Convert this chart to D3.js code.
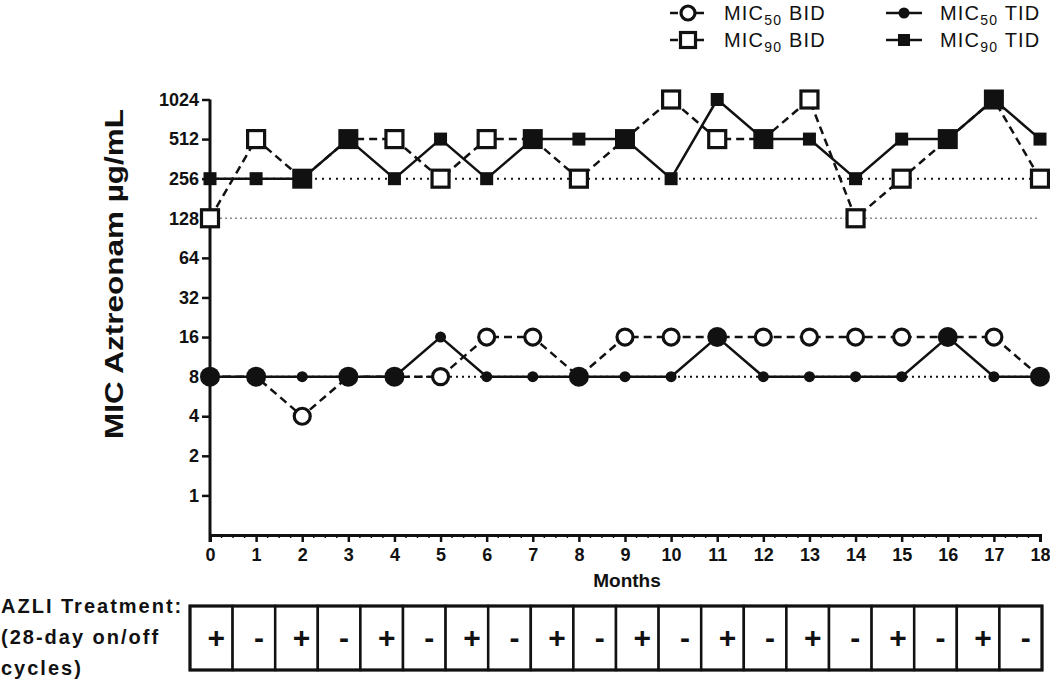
<!DOCTYPE html>
<html>
<head>
<meta charset="utf-8">
<script src="https://cdn.jsdelivr.net/npm/d3@7"></script>
<style>
  body { margin: 0; background: #fff; }
  text { font-family: "Liberation Sans", Arial, sans-serif; }
</style>
</head>
<body>
<div id="chart"></div>
<script>
var width = 1050;
var height = 686;

// data
var months = [0,1,2,3,4,5,6,7,8,9,10,11,12,13,14,15,16,17,18];
var mic50BID = [8,8,4,8,8,8,16,16,8,16,16,16,16,16,16,16,16,16,8];
var mic90BID = [128,512,256,512,512,256,512,512,256,512,1024,512,512,1024,128,256,512,1024,256];
var mic50TID = [8,8,8,8,8,16,8,8,8,8,8,16,8,8,8,8,16,8,8];
var mic90TID = [256,256,256,512,256,512,256,512,512,512,256,1024,512,512,256,512,512,1024,512];
var yTicks = [1,2,4,8,16,32,64,128,256,512,1024];
var baselines = [256,128,8];
var treatment = ["+","-","+","-","+","-","+","-","+","-","+","-","+","-","+","-","+","-","+","-"];
var treatmentLabel = ["AZLI Treatment:", "(28-day on/off", "cycles)"];

var svg = d3.select("#chart")
    .append("svg")
    .attr("width", width)
    .attr("height", height);

var x = d3.scaleLinear().domain([0, 18]).range([210, 1040]);
var y = d3.scaleLog().base(2).domain([0.5, 1024]).range([535, 99.5]);

// dotted baseline reference lines
var refStyle = {256: ["#111", "2,5", 2], 128: ["#888", "2,3", 1.5], 8: ["#111", "2,4", 2]};
svg.append("g").selectAll("line")
    .data(baselines)
    .enter()
        .append("line")
        .attr("x1", x(0))
        .attr("x2", x(18))
        .attr("y1", function(d){ return y(d); })
        .attr("y2", function(d){ return y(d); })
        .attr("stroke", function(d){ return refStyle[d][0]; })
        .attr("stroke-dasharray", function(d){ return refStyle[d][1]; })
        .attr("stroke-width", function(d){ return refStyle[d][2]; });

// axes
var yAxis = svg.append("g")
    .attr("transform", "translate(" + x(0) + ",0)")
    .call(d3.axisLeft(y).tickValues(yTicks).tickSize(8).tickPadding(3).tickFormat(d3.format("d")));

var xAxis = svg.append("g")
    .attr("transform", "translate(0," + y(0.5) + ")")
    .call(d3.axisBottom(x).tickValues(months).tickSize(7).tickPadding(6).tickFormat(d3.format("d")));

// minor ticks on the x axis
svg.append("g").selectAll("line")
    .data(d3.range(0, 18.01, 0.25).filter(function(d){ return d % 1 !== 0; }))
    .enter()
        .append("line")
        .attr("x1", function(d){ return x(d); })
        .attr("x2", function(d){ return x(d); })
        .attr("y1", y(0.5))
        .attr("y2", y(0.5) + 3)
        .attr("stroke", "#111")
        .attr("stroke-width", 1.5);

[yAxis, xAxis].forEach(function(ax){
    ax.select(".domain").attr("stroke", "#111").attr("stroke-width", 3);
    ax.selectAll(".tick line").attr("stroke", "#111").attr("stroke-width", 2.5);
    ax.selectAll(".tick text")
        .attr("fill", "#111")
        .style("font-size", "18px")
        .style("font-weight", "bold");
});
yAxis.select(".domain").attr("d", "M0," + y(1024) + "V" + (y(0.5) + 7));

// axis titles
svg.append("text")
    .attr("transform", "translate(123,274) rotate(-90)")
    .attr("text-anchor", "middle")
    .attr("textLength", 330)
    .attr("lengthAdjust", "spacingAndGlyphs")
    .style("font-size", "25px")
    .style("font-weight", "bold")
    .attr("fill", "#111")
    .text("MIC Aztreonam µg/mL");

svg.append("text")
    .attr("x", 627)
    .attr("y", 587)
    .attr("text-anchor", "middle")
    .style("font-size", "19px")
    .style("font-weight", "bold")
    .attr("fill", "#111")
    .text("Months");

// lines
function series(vals){
    return months.map(function(m, i){ return [m, vals[i]]; });
}
var line = d3.line()
    .x(function(d){ return x(d[0]); })
    .y(function(d){ return y(d[1]); });

var lines = svg.append("g").attr("id", "lines");
[mic90BID, mic50BID].forEach(function(vals){
    lines.append("path")
        .attr("d", line(series(vals)))
        .attr("fill", "none")
        .attr("stroke", "#111")
        .attr("stroke-width", 2.5)
        .attr("stroke-dasharray", "8,5");
});
[mic90TID, mic50TID].forEach(function(vals){
    lines.append("path")
        .attr("d", line(series(vals)))
        .attr("fill", "none")
        .attr("stroke", "#111")
        .attr("stroke-width", 2.5);
});

// markers
var marks = svg.append("g").attr("id", "marks");

function openCircle(g, cx, cy, r){
    g.append("circle").attr("cx", cx).attr("cy", cy).attr("r", r)
        .attr("fill", "#fff").attr("stroke", "#111").attr("stroke-width", 3.2);
}
function openSquare(g, cx, cy, s){
    g.append("rect").attr("x", cx - s/2).attr("y", cy - s/2).attr("width", s).attr("height", s)
        .attr("fill", "#fff").attr("stroke", "#111").attr("stroke-width", 3.2);
}
function fillCircle(g, cx, cy, r){
    g.append("circle").attr("cx", cx).attr("cy", cy).attr("r", r).attr("fill", "#111");
}
function fillSquare(g, cx, cy, s){
    g.append("rect").attr("x", cx - s/2).attr("y", cy - s/2).attr("width", s).attr("height", s)
        .attr("fill", "#111");
}

months.forEach(function(m, i){
    var cx = x(m);
    // MIC50
    if (mic50BID[i] === mic50TID[i]) {
        fillCircle(marks, cx, y(mic50BID[i]), 10);
    } else {
        openCircle(marks, cx, y(mic50BID[i]), 8);
        fillCircle(marks, cx, y(mic50TID[i]), 5.5);
    }
    // MIC90
    if (mic90BID[i] === mic90TID[i]) {
        fillSquare(marks, cx, y(mic90BID[i]), 20);
    } else {
        openSquare(marks, cx, y(mic90BID[i]), 17);
        fillSquare(marks, cx, y(mic90TID[i]), 13);
    }
});

// legend
var legendItems = [
    {name: "MIC", sub: "50", tail: " BID", lx: 670, ly: 13, dashed: true, kind: "circle"},
    {name: "MIC", sub: "90", tail: " BID", lx: 670, ly: 40, dashed: true, kind: "square"},
    {name: "MIC", sub: "50", tail: " TID", lx: 886, ly: 13, dashed: false, kind: "circle"},
    {name: "MIC", sub: "90", tail: " TID", lx: 886, ly: 40, dashed: false, kind: "square"}
];
var legend = svg.append("g").attr("id", "legend");
legendItems.forEach(function(d){
    legend.append("line")
        .attr("x1", d.lx).attr("x2", d.lx + 36)
        .attr("y1", d.ly).attr("y2", d.ly)
        .attr("stroke", "#111").attr("stroke-width", 2.5)
        .attr("stroke-dasharray", d.dashed ? "8,5" : null);
    var cx = d.lx + 18;
    if (d.dashed) {
        if (d.kind === "circle") openCircle(legend, cx, d.ly, 7);
        else openSquare(legend, cx, d.ly, 15);
    } else {
        if (d.kind === "circle") fillCircle(legend, cx, d.ly, 5.5);
        else fillSquare(legend, cx, d.ly, 12);
    }
    var t = legend.append("text")
        .attr("x", d.lx + 54)
        .attr("y", d.ly + 7)
        .attr("fill", "#111")
        .style("font-size", "20px")
        .style("letter-spacing", "1.2px");
    t.append("tspan").text(d.name);
    t.append("tspan").attr("dy", 5).style("font-size", "14px").text(d.sub);
    t.append("tspan").attr("dy", -5).text(d.tail);
});

// treatment table
var boxX = 190, boxY = 606, boxW = 852, boxH = 64;
var cell = d3.scaleBand().domain(d3.range(treatment.length)).range([boxX, boxX + boxW]);

var table = svg.append("g").attr("id", "treatment");
table.selectAll("rect")
    .data(treatment)
    .enter()
        .append("rect")
        .attr("x", function(d, i){ return cell(i); })
        .attr("y", boxY)
        .attr("width", cell.bandwidth())
        .attr("height", boxH)
        .attr("fill", "#fff")
        .attr("stroke", "#111")
        .attr("stroke-width", 2.5);
table.append("rect")
    .attr("x", boxX).attr("y", boxY).attr("width", boxW).attr("height", boxH)
    .attr("fill", "none").attr("stroke", "#111").attr("stroke-width", 3);
table.selectAll("text.sign")
    .data(treatment)
    .enter()
        .append("text")
        .attr("class", "sign")
        .attr("x", function(d, i){ return cell(i) + cell.bandwidth() / 2 + 5; })
        .attr("y", boxY + boxH / 2 + 10)
        .attr("text-anchor", "middle")
        .attr("fill", "#111")
        .style("font-size", "30px")
        .style("font-weight", "bold")
        .text(function(d){ return d; });

table.selectAll("text.label")
    .data(treatmentLabel)
    .enter()
        .append("text")
        .attr("class", "label")
        .attr("x", 1)
        .attr("y", function(d, i){ return 613 + i * 31; })
        .attr("fill", "#111")
        .style("font-size", "20px")
        .style("font-weight", "bold")
        .style("letter-spacing", "2px")
        .text(function(d){ return d; });
</script>
</body>
</html>
